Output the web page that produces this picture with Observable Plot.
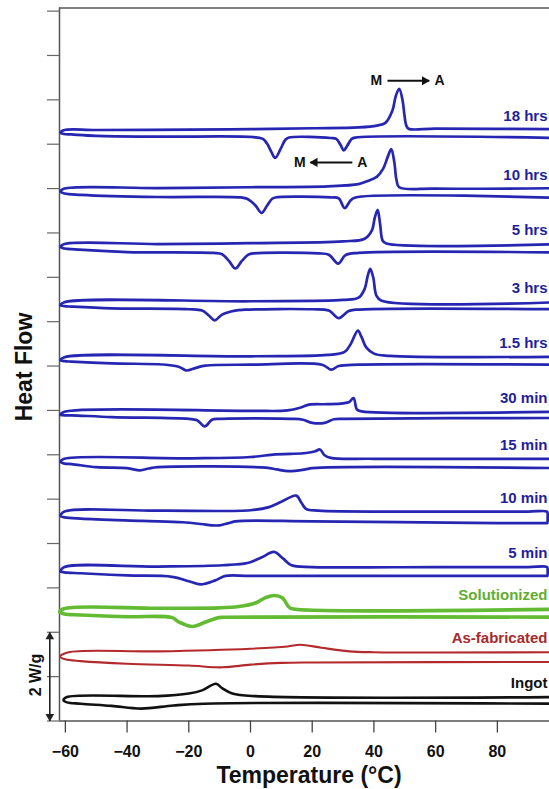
<!DOCTYPE html>
<html><head><meta charset="utf-8">
<script src="https://cdn.jsdelivr.net/npm/d3@7"></script>
<script src="https://cdn.jsdelivr.net/npm/@observablehq/plot@0.6"></script>
<style>
body{margin:0;background:#fff;}
#chart svg{overflow:hidden;display:block}
</style>
</head><body><div id="chart"></div>
<script>
// ---- data (temperature °C, heat flow W/g relative to each curve's heating baseline) ----
const samples = ["18 hrs","10 hrs","5 hrs","3 hrs","1.5 hrs","30 min","15 min","10 min","5 min","Solutionized","As-fabricated","Ingot"];
const baselines = [13.32,12.00,10.75,9.44,8.20,6.97,5.91,4.72,3.47,2.53,1.55,0.54];

const heat18h = [[-61.6,-0.06],[-60.3,0],[-50,0],[-20,0.01],[0,0.02],[20,0.04],[35,0.06],[41,0.1],[43.7,0.16],[46,0.44],[47.1,0.77],[48.2,0.93],[49.3,0.66],[49.9,0.33],[50.5,0.1],[51.2,0.03],[60,0.03],[100,0.02]];
const cool18h = [[100,-0.18],[34,-0.17],[32.8,-0.2],[31.3,-0.36],[30.2,-0.46],[29.2,-0.34],[27.8,-0.2],[26,-0.18],[12.5,-0.17],[11.3,-0.22],[9.8,-0.42],[8.0,-0.63],[6.8,-0.5],[5.3,-0.3],[4,-0.2],[1,-0.16],[-30,-0.15],[-50,-0.13],[-58,-0.1],[-60.5,-0.09]];

const heat10h = [[-61.6,-0.07],[-60.3,0],[-30,0.01],[0,0.03],[25,0.05],[35,0.1],[38,0.17],[41,0.27],[43,0.45],[44.5,0.72],[45.6,0.89],[46.6,0.6],[47.3,0.2],[48.2,0.03],[60,0],[100,0.01]];
const cool10h = [[100,-0.21],[34,-0.2],[32.4,-0.27],[30.5,-0.44],[28.6,-0.22],[26,-0.2],[8,-0.2],[7,-0.23],[5.4,-0.38],[3.6,-0.55],[1.6,-0.38],[-1.1,-0.23],[-3,-0.2],[-30,-0.19],[-55,-0.14],[-60.3,-0.11]];

const heat5h = [[-61.6,-0.07],[-60.3,0],[-30,0],[0,0.02],[30,0.06],[37,0.12],[39.3,0.3],[40.3,0.6],[41.2,0.77],[42,0.45],[42.8,0.08],[44,0.01],[100,0]];
const cool5h = [[100,-0.19],[35,-0.2],[30.8,-0.25],[28.4,-0.44],[25.4,-0.24],[22,-0.21],[1,-0.21],[-0.7,-0.24],[-2.8,-0.38],[-4.9,-0.55],[-7,-0.38],[-9.2,-0.23],[-12,-0.2],[-40,-0.18],[-57,-0.12],[-60.3,-0.1]];

const heat3h = [[-61.6,-0.07],[-60.3,0],[0,0.02],[30,0.05],[35,0.1],[37,0.3],[38,0.6],[38.8,0.75],[39.8,0.55],[40.8,0.15],[42.5,0.03],[100,0]];
const cool3h = [[100,-0.16],[34,-0.17],[31.8,-0.2],[28.6,-0.36],[25.4,-0.19],[20,-0.16],[-2,-0.17],[-5,-0.19],[-9.2,-0.28],[-11.6,-0.41],[-13.5,-0.3],[-15.7,-0.19],[-20,-0.16],[-45,-0.14],[-58,-0.1],[-60.3,-0.09]];

const heat1p5h = [[-61.6,-0.07],[-60.3,0],[0,0.02],[25,0.05],[30.5,0.12],[32.5,0.3],[34.8,0.6],[36,0.45],[37.5,0.22],[40,0.08],[45,0.03],[100,0.01]];
const cool1p5h = [[100,-0.17],[35,-0.17],[28.6,-0.2],[26.2,-0.28],[23.2,-0.17],[0,-0.17],[-14.6,-0.19],[-17.7,-0.24],[-20.8,-0.3],[-23.1,-0.22],[-27.4,-0.17],[-45,-0.14],[-58,-0.1],[-60.3,-0.09]];

const heat30m = [[-61.6,-0.07],[-60.3,0],[0,0.02],[12,0.03],[16.5,0.1],[19,0.16],[25,0.17],[30,0.19],[32,0.22],[33.4,0.31],[34.5,0.05],[36,0.01],[100,0]];
const cool30m = [[100,-0.14],[30,-0.16],[27,-0.17],[24,-0.25],[20,-0.25],[17,-0.18],[14,-0.16],[-10,-0.16],[-12.5,-0.18],[-14.8,-0.33],[-17.3,-0.19],[-20,-0.16],[-45,-0.12],[-58,-0.08],[-60.3,-0.08]];

const heat15m = [[-61.6,-0.07],[-60.3,0],[-20,0.01],[0,0.04],[8,0.1],[13,0.11],[18,0.13],[21,0.17],[22.5,0.21],[24,0.08],[26,0.02],[40,0],[100,0]];
const cool15m = [[100,-0.21],[20,-0.21],[17.8,-0.24],[12.3,-0.28],[8.5,-0.24],[5,-0.2],[-30,-0.19],[-33,-0.22],[-35.8,-0.26],[-40,-0.21],[-50,-0.19],[-58,-0.12],[-60.3,-0.11]];

const heat10m = [[-61.6,-0.1],[-60.3,0],[-30,0.02],[0,0.03],[6,0.1],[10,0.22],[14.8,0.36],[16.5,0.2],[18,0.06],[22,0.02],[60,0],[90,0],[96.1,0],[96.3,-0.05],[96.3,-0.13],[96.3,-0.21],[96.2,-0.26]];
const cool10m = [[96.2,-0.26],[90,-0.26],[80,-0.26],[20,-0.22],[-5,-0.22],[-7.1,-0.26],[-10,-0.31],[-12.5,-0.31],[-16,-0.28],[-22,-0.24],[-35,-0.21],[-55,-0.16],[-60.3,-0.13]];

const heat5m = [[-61.6,-0.1],[-60.3,0],[-30,0.01],[-9,0.04],[-1,0.09],[3.7,0.22],[7.6,0.34],[10.6,0.19],[13.3,0.04],[20,0],[60,0],[90,0],[96.1,0],[96.3,-0.05],[96.3,-0.1],[96.3,-0.16],[96.2,-0.2]];
const cool5m = [[96.2,-0.2],[90,-0.2],[50,-0.2],[0,-0.2],[-8.1,-0.2],[-11.4,-0.3],[-16.2,-0.39],[-20,-0.32],[-25.4,-0.22],[-40,-0.19],[-55,-0.14],[-60.3,-0.12]];

const heatSol = [[-61.8,-0.08],[-60.5,0],[-30,0.01],[-10,0.02],[-3.8,0.05],[1.6,0.13],[4.9,0.25],[7.6,0.3],[10.3,0.25],[12.4,0.04],[13.5,0],[100,-0.01]];
const coolSol = [[100,-0.19],[-8,-0.19],[-10.3,-0.2],[-14.6,-0.3],[-18.7,-0.4],[-23.2,-0.3],[-25.4,-0.2],[-40,-0.18],[-55,-0.14],[-60.3,-0.12]];

const heatAsf = [[-61.7,-0.1],[-59,0],[-30,0.02],[0,0.08],[12,0.13],[16.2,0.17],[23,0.1],[32,0.02],[40,0],[100,0]];
const coolAsf = [[100,-0.22],[20,-0.23],[10,-0.24],[0,-0.28],[-9.2,-0.34],[-20,-0.3],[-40,-0.26],[-55,-0.2],[-60,-0.16]];

const heatIng = [[-60.6,-0.07],[-59.5,0],[-30,0.02],[-20,0.08],[-15.7,0.15],[-11.2,0.3],[-9.2,0.2],[-5.9,0.08],[1.6,0.02],[100,0]];
const coolIng = [[100,-0.15],[-15,-0.15],[-25,-0.19],[-35.5,-0.26],[-45,-0.2],[-55,-0.15],[-59.5,-0.12]];

const heatCurves = [heat18h,heat10h,heat5h,heat3h,heat1p5h,heat30m,heat15m,heat10m,heat5m,heatSol,heatAsf,heatIng];
const coolCurves = [cool18h,cool10h,cool5h,cool3h,cool1p5h,cool30m,cool15m,cool10m,cool5m,coolSol,coolAsf,coolIng];

const xTicks = [-60,-40,-20,0,20,40,60,80];
const yTicks = d3.range(0, 17, 1);
const xDomain = [-61.9, 96.9];
const yDomain = [0, 16.07];
const scaleBar = [0, 2];           // 2 W/g
const labelLift = 0.31;            // label height above heating baseline (W/g)

// annotations: M -> A (heating) and M <- A (cooling)
const annLevel = [14.43, 12.59];
const annTail  = [44.4, 33.0];
const annTip   = [57.9, 19.4];
const annM     = [40.8, 16.0];
const annA     = [61.3, 36.2];

// ---- styles ----
const lineColor  = ["#2626b2","#2626b2","#2626b2","#2626b2","#2626b2","#2626b2","#2626b2","#2626b2","#2626b2","#63bb34","#b32a2d","#111111"];
const labelColor = ["#1f1f9c","#1f1f9c","#1f1f9c","#1f1f9c","#1f1f9c","#1f1f9c","#1f1f9c","#1f1f9c","#1f1f9c","#5fae30","#a82a2c","#111111"];
const lineWidth  = [2.7,2.7,2.7,2.7,2.7,2.7,2.7,2.7,2.7,3.6,2.1,2.6];

const rows = [];
samples.forEach((s, i) => {
  [...coolCurves[i], ...heatCurves[i]].forEach(([T, dv]) => rows.push({sample: s, i, T, V: baselines[i] + dv}));
});

const font = "Liberation Sans, Arial, Helvetica, sans-serif";
const lineMarks = samples.map((s, i) => Plot.line(rows.filter(d => d.i === i), {
  x: "T", y: "V", stroke: lineColor[i], strokeWidth: lineWidth[i], curve: "catmull-rom",
  strokeLinejoin: "round", strokeLinecap: "round"
}));

const plot = Plot.plot({
  width: 549, height: 789,
  marginLeft: 59, marginRight: 0, marginTop: 7.5, marginBottom: 68.5,
  style: {fontFamily: font, background: "#fff"},
  x: {domain: xDomain, label: null},
  y: {domain: yDomain, label: null},
  marks: [
    Plot.ruleY([yDomain[0], yDomain[1]], {stroke: "#555", strokeWidth: 1.5}),
    Plot.ruleX([xDomain[0]], {stroke: "#555", strokeWidth: 1.5}),
    Plot.axisX({ticks: xTicks, tickSize: 12, tickPadding: 13, fontSize: 16, fontWeight: "bold", fill: "#111", stroke: "#444", strokeWidth: 1.3, label: null}),
    Plot.axisY({ticks: yTicks, tickSize: 12, tickFormat: () => "", stroke: "#666", strokeWidth: 1.2, label: null}),
    ...lineMarks,
    Plot.text(samples, {frameAnchor: "right", y: (d, i) => baselines[i] + labelLift, text: d => d,
      textAnchor: "end", dx: -2, fontSize: 15, fontWeight: "bold", fill: (d, i) => labelColor[i]}),
    // annotation arrows
    Plot.link([0, 1], {x1: i => annTail[i], x2: i => annTip[i], y1: i => annLevel[i], y2: i => annLevel[i], stroke: "#111", strokeWidth: 2}),
    Plot.dot([0], {x: i => annTip[i], y: i => annLevel[i], symbol: "triangle", rotate: 90, r: 3.4, fill: "#111", stroke: "none", dx: -4.5}),
    Plot.dot([1], {x: i => annTip[i], y: i => annLevel[i], symbol: "triangle", rotate: -90, r: 3.4, fill: "#111", stroke: "none", dx: 4.5}),
    Plot.text([0, 1], {x: i => annM[i], y: i => annLevel[i], text: () => "M", fontSize: 14, fontWeight: "bold", fill: "#111"}),
    Plot.text([0, 1], {x: i => annA[i], y: i => annLevel[i], text: () => "A", fontSize: 14, fontWeight: "bold", fill: "#111"}),
    // scale bar
    Plot.link([0], {x1: xDomain[0], x2: xDomain[0], y1: scaleBar[0], y2: scaleBar[1], dx: -9.7, stroke: "#222", strokeWidth: 1.6}),
    Plot.dot([scaleBar[1]], {x: xDomain[0], y: d => d, symbol: "triangle", r: 3.2, fill: "#222", stroke: "none", dx: -9.7, dy: 4.5}),
    Plot.dot([scaleBar[0]], {x: xDomain[0], y: d => d, symbol: "triangle", rotate: 180, r: 3.2, fill: "#222", stroke: "none", dx: -9.7, dy: -4.5})
  ]
});

const svg = d3.select(plot);
svg.append("text").attr("transform", "translate(24,367) rotate(-90)").attr("text-anchor", "middle").attr("dy", "0.35em")
  .attr("font-size", 23).attr("font-weight", "bold").attr("fill", "#111").attr("font-family", font).text("Heat Flow");
svg.append("text").attr("transform", "translate(35,675) rotate(-90)").attr("text-anchor", "middle").attr("dy", "0.35em")
  .attr("font-size", 16).attr("font-weight", "bold").attr("fill", "#111").attr("font-family", font).text("2 W/g");
svg.append("text").attr("x", 309).attr("y", 783).attr("text-anchor", "middle")
  .attr("font-size", 23).attr("font-weight", "bold").attr("fill", "#111").attr("font-family", font).text("Temperature (°C)");

document.getElementById("chart").appendChild(plot);
</script>
</body></html>
